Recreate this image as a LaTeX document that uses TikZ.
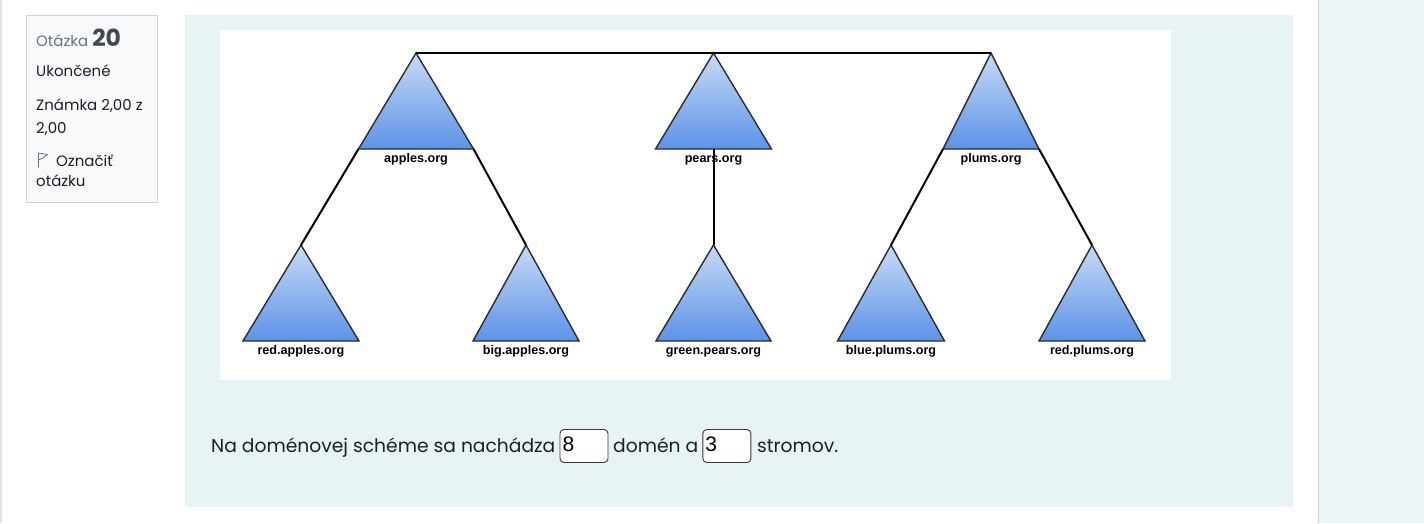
\documentclass[tikz,border=0pt]{standalone}
\usepackage{fontspec}
\setmainfont{Poppins}
\newfontfamily\arialfont{Liberation Sans}
\usetikzlibrary{positioning}

\definecolor{pageline}{HTML}{DEE2E6}
\definecolor{infobg}{HTML}{F8F9FA}
\definecolor{infoline}{HTML}{CFD4D9}
\definecolor{panelbg}{HTML}{E7F3F5}
\definecolor{sidebg}{HTML}{EBF4F7}
\definecolor{sideline}{HTML}{CAD2D5}
\definecolor{textdark}{HTML}{1D2125}
\definecolor{textgray}{HTML}{6A737B}
\definecolor{numgray}{HTML}{3F4A54}
\definecolor{tritop}{HTML}{C8DAF6}
\definecolor{tribot}{HTML}{5C92E6}
\definecolor{triline}{HTML}{2B2B2B}
\definecolor{boxgray}{HTML}{3A3A3A}

\tikzset{
  tri/.style={draw=triline, line width=1.4pt, top color=tritop, bottom color=tribot},
  conn/.style={line width=2pt, black},
  domlabel/.style={inner sep=0pt, text height=9pt, text depth=2.5pt, font=\arialfont\bfseries\fontsize{12.6}{14}\selectfont},
  qtext/.style={inner sep=0pt, text height=16pt, text depth=4pt, text=textdark, font=\fontsize{18.7}{22}\selectfont},
  answerbox/.style={draw=boxgray, fill=white, line width=0.9pt, rounded corners=4pt, minimum width=48pt, minimum height=33pt, inner sep=2pt, text width=43pt, text height=15pt, text depth=4pt, align=left, font=\arialfont\fontsize{21}{24}\selectfont},
  infotext/.style={inner sep=0pt, anchor=base west, text=textdark, font=\fontsize{15}{17}\selectfont},
}

% one domain tree: name, apex x, apex y, half width, label
\newcommand{\domtri}[5]{%
  \coordinate (#1-top) at (#2,#3);
  \coordinate (#1-bl) at (#2-#4,#3+96);
  \coordinate (#1-br) at (#2+#4,#3+96);
  \coordinate (#1-bc) at (#2,#3+96);
  \path[tri] (#1-top) -- (#1-bl) -- (#1-br) -- cycle;
  \node[domlabel, below=4.5pt of #1-bc] (#1) {#5};
}

\begin{document}
\begin{tikzpicture}[x=1pt, y=-1pt]

    \useasboundingbox (0,0) rectangle (1424,523);
    \fill[white] (0,0) rectangle (1424,523);

    % page frame
    \fill[pageline] (0,0) rectangle (2,523);
    \fill[sidebg] (1319,0) rectangle (1424,523);
    \fill[sideline] (1318,0) rectangle (1319.3,523);

    % question info
    \node[draw=infoline, fill=infobg, line width=0.8pt, inner sep=0pt, anchor=north west,
          minimum width=131pt, minimum height=187pt] (infobox) at (26,15) {};
    \node[infotext, text=textgray] (qnum) at (36,46) {Otázka \textcolor{numgray}{\fontsize{23.5}{26}\selectfont\bfseries 20}};
    \node[infotext] (state) at (36,76) {Ukončené};
    \node[infotext] (grade1) at (36,110) {Známka 2,00 z};
    \node[infotext] (grade2) at (36,133) {2,00};
    \node[infotext] (flag1) at (56,166) {Označiť};
    \node[infotext] (flag2) at (36,186) {otázku};
    \draw[textgray, line width=0.8pt, line join=round]
        (38.5,167) -- (38.5,153) -- (47.5,154.5) -- (43,158) -- (38.5,160);

    % question panel and picture area
    \fill[panelbg] (185,15) rectangle (1293,507);
    \fill[white] (220,30) rectangle (1171,380);

    % domain trees
    \domtri{apples}{416}{53}{57.5}{apples.org}
    \domtri{pears}{713.5}{53}{58}{pears.org}
    \domtri{plums}{991}{53}{48}{plums.org}
    \domtri{redapples}{301}{245}{58}{red.apples.org}
    \domtri{bigapples}{526}{245}{53}{big.apples.org}
    \domtri{greenpears}{713.5}{245}{57.5}{green.pears.org}
    \domtri{blueplums}{891}{245}{53.5}{blue.plums.org}
    \domtri{redplums}{1092}{245}{53}{red.plums.org}

    % connections
    \draw[conn] (apples-top) -- (plums-top);
    \draw[conn] (apples-bl) -- (redapples-top);
    \draw[conn] (apples-br) -- (bigapples-top);
    \draw[conn] (pears-bc) -- (greenpears-top);
    \draw[conn] (plums-bl) -- (blueplums-top);
    \draw[conn] (plums-br) -- (redplums-top);

    % question text with answers
    \node[qtext, anchor=base west] (q1) at (211,452) {Na doménovej schéme sa nachádza};
    \node[answerbox, right=4pt of q1] (ans1) {8};
    \node[qtext, right=4.5pt of ans1] (q2) {domén a};
    \node[answerbox, right=4pt of q2] (ans2) {3};
    \node[qtext, right=5.5pt of ans2] (q3) {stromov.};

\end{tikzpicture}
\end{document}
